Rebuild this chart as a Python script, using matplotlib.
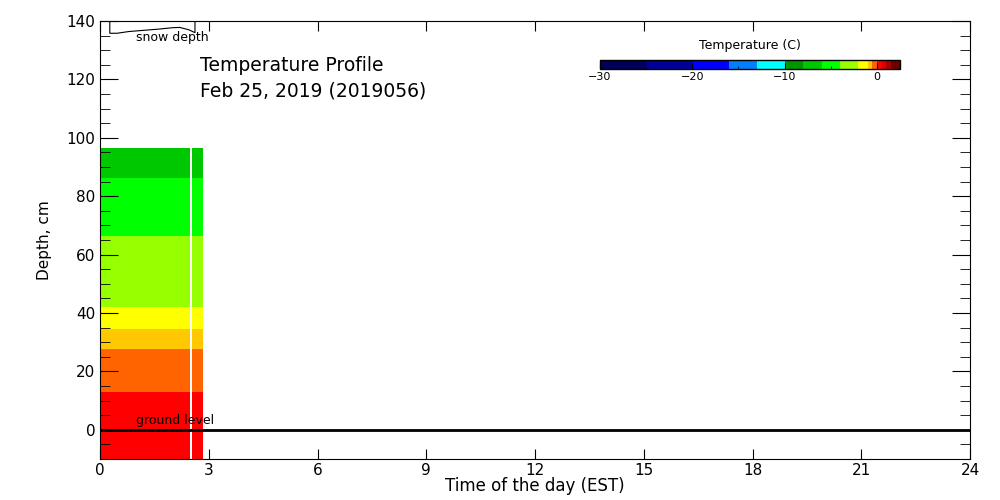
import numpy as np
import matplotlib
matplotlib.use("Agg")
import matplotlib.pyplot as plt
from matplotlib.colors import ListedColormap, BoundaryNorm
from matplotlib.cm import ScalarMappable

# colour scale of the temperature bar
temp_bounds = [-30, -25, -20, -16, -13, -10, -8, -6, -4, -2, -1, -0.5, 0, 0.5, 1, 1.5, 2.5]
temp_colors = ['#00005a', '#000096', '#0000ff', '#0080ff', '#00ffff', '#009600',
               '#00c800', '#00ff00', '#96ff00', '#ffff00', '#ffc800', '#ff6400',
               '#ff0000', '#dc0000', '#aa0000', '#6e0000']

# measured profile: time columns (hours) and depth layers (cm)
time_edges = [0.0, 2.48, 2.54, 2.84]
depth_edges = [-10, 12.8, 27.7, 34.5, 42.1, 66.4, 86.2, 96.4]
layer_temp = [0.2, -0.3, -0.7, -1.5, -3.0, -5.0, -7.0]

# snow depth trace (hours, cm below top)
snow_time = [0.27, 0.27, 0.47, 0.8, 1.2, 1.6, 2.0, 2.2, 2.45, 2.62, 2.62]
snow_depth = [0.0, 4.2, 4.2, 3.6, 3.2, 2.8, 2.3, 2.2, 3.0, 4.0, 0.0]

top = 140

cmap = ListedColormap(temp_colors)
norm = BoundaryNorm(temp_bounds, cmap.N)

fig = plt.figure(figsize=(10, 5), dpi=100)
ax = fig.add_axes([0.1, 0.082, 0.87, 0.876])

grid = np.array([[t, t, t] for t in layer_temp])
grid[:, 1] = np.nan
ax.pcolormesh(time_edges, depth_edges, np.ma.masked_invalid(grid), cmap=cmap, norm=norm)

ax.axhline(0, color='black', lw=2)
ax.text(1.0, 1.0, 'ground level', fontsize=9, va='bottom')

ax.plot(snow_time, top - np.array(snow_depth), color='black', lw=0.8)
ax.text(1.0, 134.3, 'snow depth', fontsize=9, va='center')

ax.text(2.77, 122.8, 'Temperature Profile', fontsize=13.5)
ax.text(2.77, 114.3, 'Feb 25, 2019 (2019056)', fontsize=13.5)

ax.set_xlim(0, 24)
ax.set_ylim(-10, 140)
ax.set_xticks(range(0, 25, 3))
ax.set_yticks(range(0, 141, 20))
ax.set_yticks(range(-10, 141, 5), minor=True)
ax.tick_params(axis='x', direction='in', top=True, length=7, labelsize=11, pad=3)
ax.tick_params(axis='y', which='major', direction='in', right=True, length=13, labelsize=11)
ax.tick_params(axis='y', which='minor', direction='in', right=True, length=7)
ax.set_xlabel('Time of the day (EST)', fontsize=12, labelpad=-1)
ax.set_ylabel('Depth, cm', fontsize=11, labelpad=10)

cax = fig.add_axes([0.6, 0.862, 0.3, 0.018])
sm = ScalarMappable(norm=norm, cmap=cmap)
cb = fig.colorbar(sm, cax=cax, orientation='horizontal', spacing='proportional',
                  boundaries=temp_bounds, ticks=[-30, -20, -10, 0])
cb.outline.set_linewidth(1)
cax.xaxis.set_ticks([-25, -15, -5], minor=True)
cax.tick_params(which='major', direction='in', length=4, labelsize=8, pad=2)
cax.tick_params(which='minor', direction='in', length=2)
cax.text(0.5, 1.9, 'Temperature (C)', transform=cax.transAxes, ha='center', va='bottom', fontsize=9)

fig.savefig('out.png', dpi=100)
